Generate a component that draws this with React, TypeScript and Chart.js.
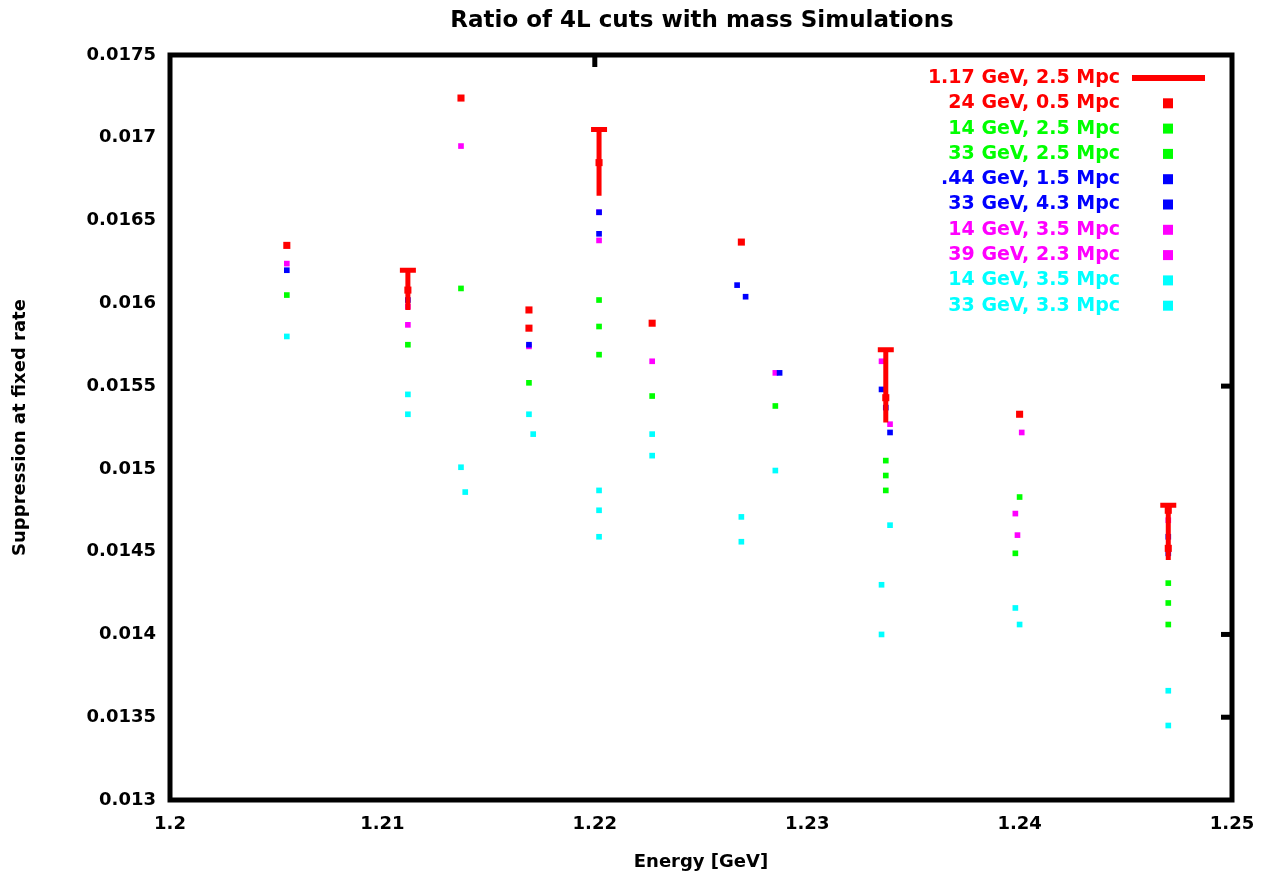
import React, { useEffect, useRef } from "react";
import { Chart, registerables } from "chart.js";

Chart.register(...registerables);

const titleText = "Ratio of 4L cuts with mass Simulations";
const xAxisTitle = "Energy [GeV]";
const yAxisTitle = "Suppression at fixed rate";

const xTickLabels = ["1.2", "1.21", "1.22", "1.23", "1.24", "1.25"];
const yTickLabels = ["0.013", "0.0135", "0.014", "0.0145", "0.015", "0.0155", "0.016", "0.0165", "0.017", "0.0175"];

const seriesNames = [
  "1.17 GeV, 2.5 Mpc",
  "24 GeV, 0.5 Mpc",
  "14 GeV, 2.5 Mpc",
  "33 GeV, 2.5 Mpc",
  ".44 GeV, 1.5 Mpc",
  "33 GeV, 4.3 Mpc",
  "14 GeV, 3.5 Mpc",
  "39 GeV, 2.3 Mpc",
  "14 GeV, 3.5 Mpc",
  "33 GeV, 3.3 Mpc",
];
const seriesColors = ["#ff0000", "#ff0000", "#00ff00", "#00ff00", "#0000ff", "#0000ff", "#ff00ff", "#ff00ff", "#00ffff", "#00ffff"];

// mirror tick positions seen on the right / top borders
const rightMirrorTicks = [0.0155, 0.014, 0.0135];
const topMirrorTicks = [1.22];

// series 1 (red, with error bars)
const s1X = [1.2112, 1.2202, 1.2337, 1.247];
const s1Y = [0.01608, 0.01685, 0.01543, 0.01475];
const s1Low = [0.01596, 0.01665, 0.01528, 0.01445];
const s1High = [0.01620, 0.01705, 0.01572, 0.01478];
// series 2 (red)
const s2X = [1.2055, 1.2137, 1.2169, 1.2169, 1.2227, 1.2269, 1.24, 1.247];
const s2Y = [0.01635, 0.01724, 0.01596, 0.01585, 0.01588, 0.01637, 0.01533, 0.01452];
// series 3 (green)
const s3X = [1.2055, 1.2112, 1.2169, 1.2202, 1.2227, 1.2285, 1.2337, 1.24, 1.247];
const s3Y = [0.01605, 0.01575, 0.01552, 0.01602, 0.01544, 0.01538, 0.01505, 0.01483, 0.01419];
// series 4 (green)
const s4X = [1.2137, 1.2202, 1.2202, 1.2337, 1.2337, 1.2398, 1.247, 1.247];
const s4Y = [0.01609, 0.01586, 0.01569, 0.01496, 0.01487, 0.01449, 0.01431, 0.01406];
// series 5 (blue)
const s5X = [1.2055, 1.2112, 1.2169, 1.2202, 1.2267, 1.2287, 1.2335, 1.247];
const s5Y = [0.0162, 0.01602, 0.01575, 0.01655, 0.01611, 0.01558, 0.01548, 0.01459];
// series 6 (blue)
const s6X = [1.2202, 1.2271, 1.2337, 1.2339, 1.247];
const s6Y = [0.01642, 0.01604, 0.01537, 0.01522, 0.01449];
// series 7 (magenta)
const s7X = [1.2055, 1.2112, 1.2169, 1.2202, 1.2227, 1.2285, 1.2339, 1.2398, 1.247];
const s7Y = [0.01624, 0.01598, 0.01574, 0.01655, 0.01565, 0.01558, 0.01527, 0.01473, 0.01469];
// series 8 (magenta)
const s8X = [1.2112, 1.2137, 1.2202, 1.2335, 1.2401, 1.2399];
const s8Y = [0.01587, 0.01695, 0.01638, 0.01565, 0.01522, 0.0146];
// series 9 (cyan)
const s9X = [1.2055, 1.2112, 1.2137, 1.2169, 1.2202, 1.2227, 1.2269, 1.2285, 1.2339, 1.2398, 1.247];
const s9Y = [0.0158, 0.01545, 0.01501, 0.01533, 0.01487, 0.01521, 0.01471, 0.01499, 0.01466, 0.01416, 0.01366];
// series 10 (cyan)
const s10X = [1.2112, 1.2139, 1.2171, 1.2202, 1.2202, 1.2227, 1.2269, 1.2335, 1.2335, 1.24, 1.247];
const s10Y = [0.01533, 0.01486, 0.01521, 0.01475, 0.01459, 0.01508, 0.01456, 0.0143, 0.014, 0.01406, 0.01345];

const seriesX = [s1X, s2X, s3X, s4X, s5X, s6X, s7X, s8X, s9X, s10X];
const seriesY = [s1Y, s2Y, s3Y, s4Y, s5Y, s6Y, s7Y, s8Y, s9Y, s10Y];

const FONT = "'DejaVu Sans', sans-serif";

const overlayPlugin = {
  id: "gnuOverlay",
  afterDatasetsDraw(chart: any) {
    const ctx = chart.ctx;
    const xs = chart.scales.x;
    const ys = chart.scales.y;
    const a = chart.chartArea;
    ctx.save();
    // error bars for series 1
    ctx.strokeStyle = "#ff0000";
    ctx.lineWidth = 5;
    for (let i = 0; i < s1X.length; i++) {
      const px = xs.getPixelForValue(s1X[i]);
      const pl = ys.getPixelForValue(s1Low[i]);
      const ph = ys.getPixelForValue(s1High[i]);
      ctx.beginPath();
      ctx.moveTo(px, pl);
      ctx.lineTo(px, ph);
      ctx.moveTo(px - 8, ph);
      ctx.lineTo(px + 8, ph);
      ctx.stroke();
    }
    // frame
    ctx.strokeStyle = "#000";
    ctx.lineWidth = 5;
    ctx.strokeRect(a.left, a.top, a.right - a.left, a.bottom - a.top);
    // mirror ticks
    ctx.fillStyle = "#000";
    for (const v of rightMirrorTicks) {
      const py = ys.getPixelForValue(v);
      ctx.fillRect(a.right - 11, py - 2.5, 11, 5);
    }
    for (const v of topMirrorTicks) {
      const px = xs.getPixelForValue(v);
      ctx.fillRect(px - 2.5, a.top, 5, 12);
    }
    // title
    ctx.font = `bold 23px ${FONT}`;
    ctx.textAlign = "center";
    ctx.textBaseline = "middle";
    ctx.fillText(titleText, 702, 21);
    // legend
    ctx.font = `bold 19px ${FONT}`;
    ctx.textAlign = "right";
    const rowY = 78;
    const rowH = 25.3;
    for (let i = 0; i < seriesNames.length; i++) {
      const y = rowY + i * rowH;
      ctx.fillStyle = seriesColors[i];
      ctx.fillText(seriesNames[i], 1120, y);
      if (i === 0) {
        ctx.fillRect(1132, y - 3, 73, 6);
      } else {
        ctx.fillRect(1163, y - 5, 10, 10);
      }
    }
    ctx.restore();
  },
};

export default function App() {
  const ref = useRef<HTMLCanvasElement | null>(null);
  useEffect(() => {
    if (!ref.current) return;
    const datasets = seriesNames.map((name, i) => ({
      label: name,
      data: seriesX[i].map((x, j) => ({ x, y: seriesY[i][j] })),
      backgroundColor: seriesColors[i],
      borderColor: seriesColors[i],
      pointStyle: "rect" as const,
      pointRadius: i < 2 ? 5 : 4,
      pointBorderWidth: 0,
      showLine: false,
    }));
    const chart = new Chart(ref.current, {
      type: "scatter",
      data: { datasets },
      options: {
        responsive: false,
        animation: false,
        layout: { padding: { left: 0, right: 32, top: 55, bottom: 0 } },
        plugins: { legend: { display: false }, title: { display: false }, tooltip: { enabled: false } },
        scales: {
          x: {
            type: "linear",
            min: 1.2,
            max: 1.25,
            grid: { display: false, drawTicks: false },
            border: { display: false },
            ticks: {
              stepSize: 0.01,
              color: "#000",
              font: { family: FONT, size: 18, weight: "bold" },
              padding: 14,
              maxRotation: 0,
              callback: (_v: any, idx: number) => xTickLabels[idx],
            },
            title: { display: true, text: xAxisTitle, color: "#000", font: { family: FONT, size: 18, weight: "bold" }, padding: { top: 4, bottom: 2 } },
            afterFit: (s: any) => { s.height = 75; s.paddingLeft = 0; s.paddingRight = 0; },
          },
          y: {
            type: "linear",
            min: 0.013,
            max: 0.0175,
            grid: { display: false, drawTicks: false },
            border: { display: false },
            ticks: {
              stepSize: 0.0005,
              color: "#000",
              font: { family: FONT, size: 18, weight: "bold" },
              padding: 14,
              callback: (_v: any, idx: number) => yTickLabels[idx],
            },
            title: { display: true, text: yAxisTitle, color: "#000", font: { family: FONT, size: 18, weight: "bold" }, padding: { top: 10, bottom: 0 } },
            afterFit: (s: any) => { s.width = 170; s.paddingTop = 0; s.paddingBottom = 0; },
          },
        },
      },
      plugins: [overlayPlugin],
    });
    return () => chart.destroy();
  }, []);
  return (
    <div style={{ position: "fixed", left: 0, top: 0, width: 1264, height: 875, background: "#fff" }}>
      <canvas ref={ref} width={1264} height={875} />
    </div>
  );
}
